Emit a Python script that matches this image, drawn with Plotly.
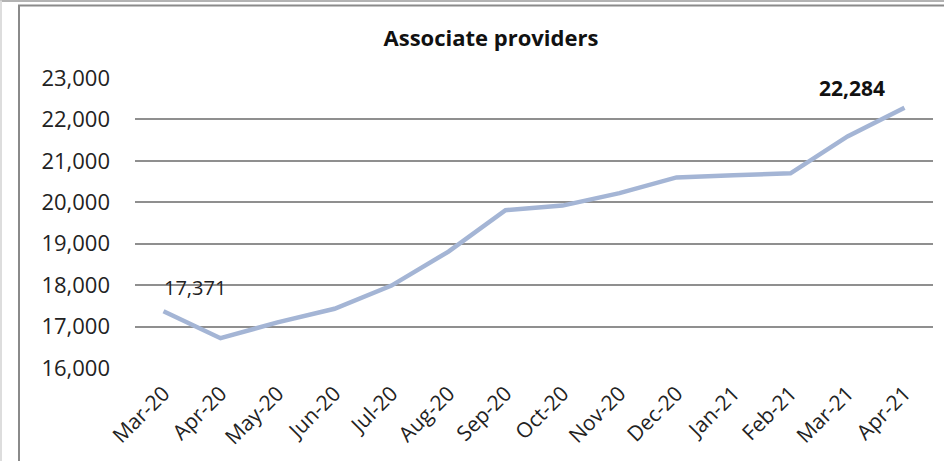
import plotly.graph_objects as go

# Monthly count of associate providers
months = ["Mar-20", "Apr-20", "May-20", "Jun-20", "Jul-20", "Aug-20", "Sep-20",
          "Oct-20", "Nov-20", "Dec-20", "Jan-21", "Feb-21", "Mar-21", "Apr-21"]
providers = [17371, 16720, 17100, 17430, 17990, 18810, 19810,
             19920, 20220, 20600, 20650, 20700, 21590, 22284]
y_ticks = [16000, 17000, 18000, 19000, 20000, 21000, 22000, 23000]

W, H = 944, 461
ML, MR, MT, MB = 135, 11, 78, 91
PW, PH = W - ML - MR, H - MT - MB

def px_x(p):
    return (p - ML) / PW

def px_y(p):
    return (H - MB - p) / PH

FONT = "Open Sans"
GRID = "#8f8f8f"

fig = go.Figure()
fig.add_trace(go.Scatter(
    x=months, y=providers, mode="lines",
    line=dict(color="#a4b5d5", width=4.5),
    hoverinfo="x+y", showlegend=False,
))

fig.add_annotation(x=months[0], y=providers[0], text=f"{providers[0]:,}",
                   showarrow=False, xanchor="left", yanchor="bottom",
                   xshift=-2, yshift=8, font=dict(family=FONT, size=20, color="#222"))
fig.add_annotation(x=months[-1], y=providers[-1], text=f"<b>{providers[-1]:,}</b>",
                   showarrow=False, xanchor="center", yanchor="bottom",
                   xshift=-53, yshift=4, font=dict(family=FONT, size=21, color="#111"))

# chart frame
fig.add_shape(type="rect", xref="paper", yref="paper",
              x0=px_x(19), x1=px_x(990), y0=px_y(5), y1=px_y(500),
              line=dict(color="#8a8a8a", width=2), layer="below")
fig.add_shape(type="line", xref="paper", yref="paper",
              x0=px_x(0), x1=px_x(990), y0=px_y(0.5), y1=px_y(0.5),
              line=dict(color="#9a9a9a", width=1.5), layer="below")
fig.add_shape(type="line", xref="paper", yref="paper",
              x0=px_x(1), x1=px_x(1), y0=px_y(0), y1=px_y(500),
              line=dict(color="#dddddd", width=2), layer="below")

fig.update_layout(
    width=W, height=H,
    margin=dict(l=ML, r=MR, t=MT, b=MB, pad=0),
    paper_bgcolor="white", plot_bgcolor="white",
    title=dict(text="<b>Associate providers</b>", xref="container", x=491 / W,
               xanchor="center", yref="container", y=1 - 38 / H, yanchor="middle",
               font=dict(family=FONT, size=22, color="#111")),
    xaxis=dict(
        type="category", tickangle=-45, showgrid=False, zeroline=False,
        showline=False, ticks="", ticklabelstandoff=8,
        tickfont=dict(family=FONT, size=21, color="#222"),
        range=[-0.5, len(months) - 0.5],
    ),
    yaxis=dict(
        range=[16000, 23000], tickvals=y_ticks,
        ticktext=[f"{v:,}" for v in y_ticks],
        showgrid=True, gridcolor=GRID, gridwidth=2, zeroline=False,
        showline=False, ticks="", ticklabelstandoff=24,
        tickfont=dict(family=FONT, size=22, color="#222"),
    ),
)

fig.write_html("out.html")
